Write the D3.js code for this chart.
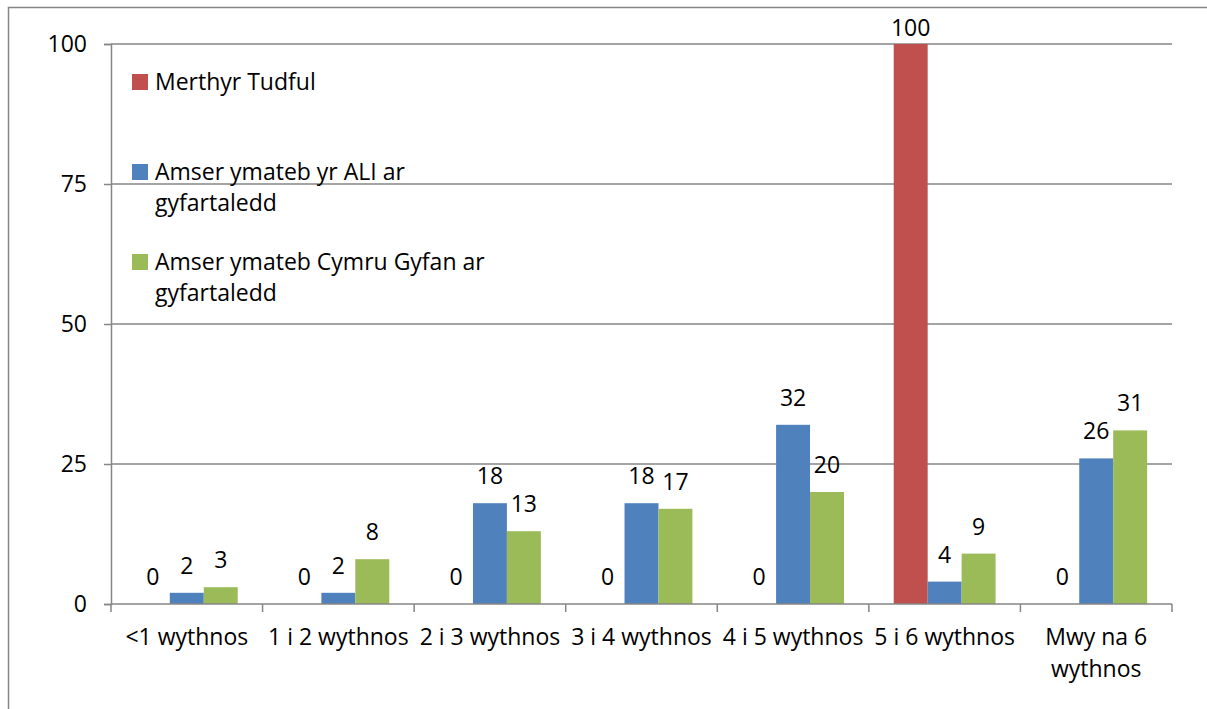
<!DOCTYPE html>
<html>
<head>
<meta charset="utf-8">
<script src="https://cdn.jsdelivr.net/npm/d3@7"></script>
<style>
	body { margin: 0; background: #fff; }
	svg text { font-family: "Open Sans", Lato, sans-serif; fill: #000; }
</style>
</head>
<body>
<div id="chart"></div>
<script>
// categories and series
var categories = ["<1 wythnos", "1 i 2 wythnos", "2 i 3 wythnos", "3 i 4 wythnos", "4 i 5 wythnos", "5 i 6 wythnos", "Mwy na 6 wythnos"];
var seriesNames = ["Merthyr Tudful", "Amser ymateb yr ALI ar gyfartaledd", "Amser ymateb Cymru Gyfan ar gyfartaledd"];
var merthyr = [0, 0, 0, 0, 0, 100, 0];
var aliAvg = [2, 2, 18, 18, 32, 4, 26];
var walesAvg = [3, 8, 13, 17, 20, 9, 31];
var yTicks = [0, 25, 50, 75, 100];
var colours = ["#c0504d", "#4f81bd", "#9bbb59"];

(function () {
	var W = 1207, H = 709;
	var fs = "23px";
	var margin = {top: 44, right: 35, bottom: 105, left: 111},
		width = W - margin.left - margin.right,
		height = H - margin.top - margin.bottom;

	var svg = d3.select("#chart").append("svg")
		.attr("width", W)
		.attr("height", H);

	// outer frame (only left and top visible)
	svg.append("rect")
		.attr("x", 8.5).attr("y", 7.5)
		.attr("width", W + 20).attr("height", H + 20)
		.attr("fill", "none")
		.attr("stroke", "#868686")
		.attr("stroke-width", 1.5);

	var g = svg.append("g")
		.attr("transform", "translate(" + margin.left + "," + margin.top + ")");

	var xScale = d3.scaleBand()
		.domain(categories)
		.range([0, width])
		.paddingInner(0)
		.paddingOuter(0);

	var yScale = d3.scaleLinear()
		.domain([0, 100])
		.range([height, 0]);

	var seriesKeys = [0, 1, 2];
	var band = xScale.bandwidth();
	var groupW = band * 0.672;
	var xSub = d3.scaleBand()
		.domain(seriesKeys)
		.range([(band - groupW) / 2, (band + groupW) / 2]);

	// gridlines
	g.selectAll(".grid")
		.data(yTicks.filter(function (d) { return d > 0; }))
		.enter().append("line")
			.attr("x1", 0).attr("x2", width)
			.attr("y1", function (d) { return yScale(d); })
			.attr("y2", function (d) { return yScale(d); })
			.attr("stroke", "#868686")
			.attr("stroke-width", 1.5);

	// y axis
	var yAxis = g.append("g")
		.call(d3.axisLeft(yScale).tickValues(yTicks).tickSize(7).tickPadding(17));
	yAxis.select(".domain").attr("stroke", "#868686").attr("stroke-width", 1.5);
	yAxis.selectAll(".tick line").attr("stroke", "#868686").attr("stroke-width", 1.5);
	yAxis.selectAll(".tick text")
		.style("font-size", fs)
		.attr("font-family", null);

	// bars
	var data = [merthyr, aliAvg, walesAvg];
	var rows = [];
	categories.forEach(function (c, i) {
		seriesKeys.forEach(function (k) {
			rows.push({cat: c, key: k, value: data[k][i]});
		});
	});

	g.selectAll(".bar")
		.data(rows)
		.enter().append("rect")
			.attr("class", "bar")
			.attr("x", function (d) { return xScale(d.cat) + xSub(d.key); })
			.attr("width", xSub.bandwidth())
			.attr("y", function (d) { return yScale(d.value); })
			.attr("height", function (d) { return height - yScale(d.value); })
			.attr("fill", function (d) { return colours[d.key]; });

	// value labels
	g.selectAll(".lbl")
		.data(rows)
		.enter().append("text")
			.attr("class", "lbl")
			.attr("x", function (d) { return xScale(d.cat) + xSub(d.key) + xSub.bandwidth() / 2; })
			.attr("y", function (d) { return Math.max(yScale(d.value) - 27, -16); })
			.attr("dy", "0.35em")
			.attr("text-anchor", "middle")
			.style("font-size", fs)
			.text(function (d) { return d.value; });

	// x axis
	var xAxis = g.append("g")
		.attr("transform", "translate(0," + height + ")");
	xAxis.append("line")
		.attr("x1", 0).attr("x2", width)
		.attr("stroke", "#868686").attr("stroke-width", 1.5);
	xAxis.selectAll(".xtick")
		.data(d3.range(categories.length + 1))
		.enter().append("line")
			.attr("x1", function (i) { return i * band; })
			.attr("x2", function (i) { return i * band; })
			.attr("y1", 0).attr("y2", 8)
			.attr("stroke", "#868686").attr("stroke-width", 1.5);

	var xLabels = xAxis.selectAll(".xl")
		.data(categories)
		.enter().append("text")
			.attr("class", "xl")
			.attr("text-anchor", "middle")
			.attr("transform", function (d) { return "translate(" + (xScale(d) + band / 2) + ",41)"; })
			.style("font-size", fs);
	xLabels.each(function (d) {
		var t = d3.select(this);
		var lines = d === "Mwy na 6 wythnos" ? ["Mwy na 6", "wythnos"] : [d];
		lines.forEach(function (l, i) {
			t.append("tspan").attr("x", 0).attr("y", i * 32).text(l);
		});
	});

	// legend
	var legendLines = [["Merthyr Tudful"], ["Amser ymateb yr ALI ar", "gyfartaledd"], ["Amser ymateb Cymru Gyfan ar", "gyfartaledd"]];
	var legendY = [82, 172, 262];
	var leg = svg.append("g");
	legendLines.forEach(function (lines, k) {
		leg.append("rect")
			.attr("x", 132).attr("y", legendY[k] - 8)
			.attr("width", 16).attr("height", 16)
			.attr("fill", colours[k]);
		var t = leg.append("text")
			.style("font-size", fs);
		lines.forEach(function (l, i) {
			t.append("tspan")
				.attr("x", 155)
				.attr("y", legendY[k] + i * 31)
				.attr("dy", "0.35em")
				.text(l);
		});
	});
})();
</script>
</body>
</html>
